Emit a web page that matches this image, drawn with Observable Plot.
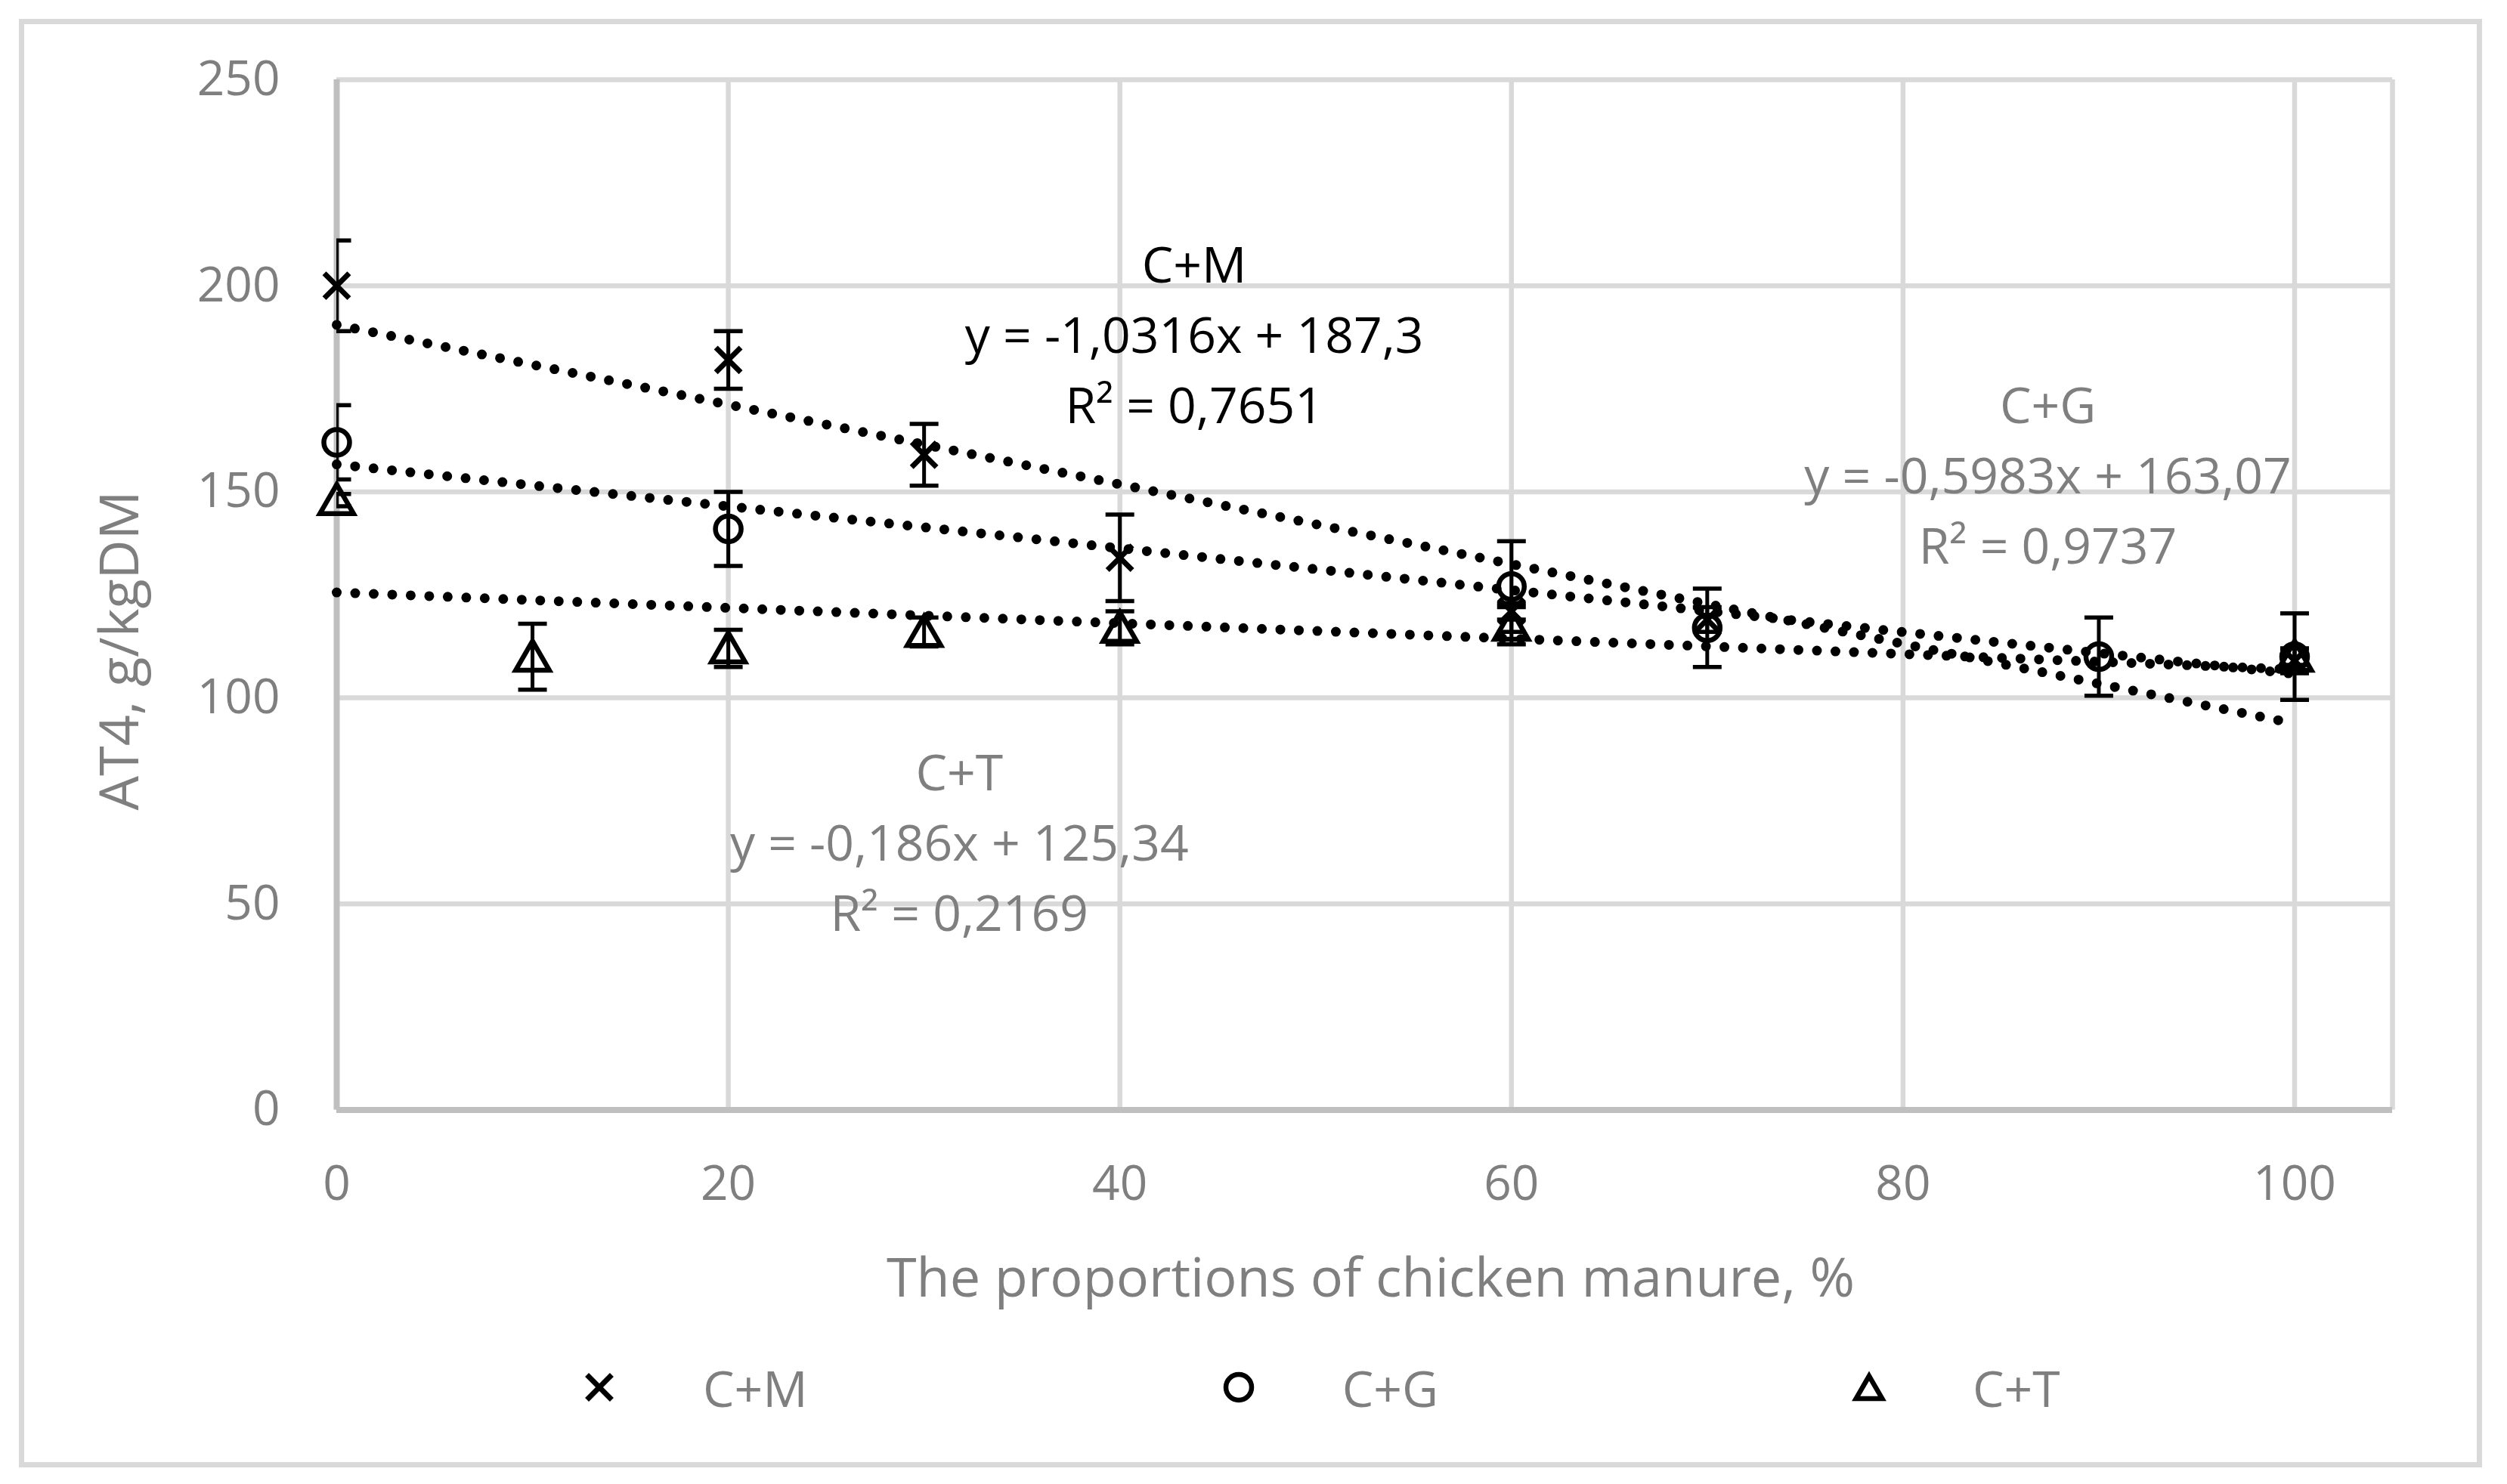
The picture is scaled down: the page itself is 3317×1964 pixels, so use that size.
<!DOCTYPE html>
<html>
<head>
<meta charset="utf-8">
<script src="https://cdn.jsdelivr.net/npm/d3@7"></script>
<script src="https://cdn.jsdelivr.net/npm/@observablehq/plot@0.6"></script>
<style>
  html, body { margin: 0; padding: 0; background: #ffffff; }
  body { width: 3317px; height: 1964px; position: relative; overflow: hidden; font-family: "Open Sans", sans-serif; }
  #frame { position: absolute; left: 25px; top: 25px; width: 3259px; height: 1917px; box-sizing: border-box; border: 7px solid #d9d9d9; }
  #chart { position: absolute; left: 0; top: 0; }
  #ytitle { position: absolute; left: 155px; top: 861px; transform: translate(-50%, -50%) rotate(-90deg); white-space: nowrap; font-size: 72px; line-height: 1; color: #7f7f7f; }
  #legend { position: absolute; left: 773px; top: 1796px; height: 80px; display: flex; align-items: center; font-size: 66px; color: #7f7f7f; }
  .item { display: flex; align-items: center; }
  .item svg { margin-right: 117px; overflow: visible; }
  .item + .item { margin-left: 550px; }
</style>
</head>
<body>
<div id="frame"></div>
<div id="chart"></div>
<div id="ytitle"></div>
<div id="legend"></div>
<script>
// ---- data ----
const seriesNames = ["C+M", "C+G", "C+T"];

const cmX   = [0, 20, 30, 40, 60, 70, 100];
const cmY   = [200, 182, 159, 134, 121, 119, 109];
const cmErr = [11, 7, 7.5, 10.5, 2, 3, 3];

const cgX   = [0, 20, 60, 70, 90, 100];
const cgY   = [162, 141, 127, 117, 110, 110];
const cgErr = [9, 9, 11, 9.5, 9.5, 10.5];

const ctX   = [0, 10, 20, 30, 40, 60, 100];
const ctY   = [148, 110, 112, 116, 117, 117.5, 110];
const ctErr = [1.5, 8, 4.5, 3.5, 4, 4.5, 2];

const xTicks = [0, 20, 40, 60, 80, 100];
const yTicks = [0, 50, 100, 150, 200, 250];

const labelNames = ["C+M", "C+G", "C+T"];
const labelEquations = ["y = -1,0316x + 187,3", "y = -0,5983x + 163,07", "y = -0,186x + 125,34"];
const labelR2 = ["R² = 0,7651", "R² = 0,9737", "R² = 0,2169"];

const xTitle = "The proportions of chicken manure, %";
const yTitle = "AT4, g/kgDM";

// ---- build table ----
function rowsOf(name, xs, ys, es) {
  return xs.map((x, i) => ({series: name, x, y: ys[i], err: es[i]}));
}
const rows = [
  ...rowsOf("C+M", cmX, cmY, cmErr),
  ...rowsOf("C+G", cgX, cgY, cgErr),
  ...rowsOf("C+T", ctX, ctY, ctErr)
];

// label placement (data coordinates of the middle line)
const labelPlace = [[43.8, 189.2], [87.4, 155], [31.8, 66]];
const labels = labelNames.map((n, i) => ({
  name: n,
  text: `${n}\n${labelEquations[i]}\n${labelR2[i]}`,
  x: labelPlace[i][0],
  y: labelPlace[i][1]
}));

// horizontal cap symbol for error bars
const capSymbol = {
  draw(context, size) {
    const w = Math.sqrt(size / Math.PI);
    context.moveTo(-w, 0);
    context.lineTo(w, 0);
  }
};

const gridColor = "#d9d9d9";
const axisColor = "#bfbfbf";
const textGray = "#7f7f7f";

const chart = Plot.plot({
  width: 3317,
  height: 1760,
  marginLeft: 445,
  marginRight: 152,
  marginTop: 105,
  marginBottom: 291.5,
  style: {fontFamily: "'Open Sans', sans-serif", fontSize: "64px", color: textGray, background: "transparent", overflow: "visible"},
  x: {domain: [0, 105], ticks: xTicks, tickFormat: d => String(d), label: null, tickSize: 0, tickPadding: 74},
  y: {domain: [0, 250], ticks: yTicks, tickFormat: d => String(d), label: null, tickSize: 0, tickPadding: 75},
  symbol: {domain: seriesNames, range: ["times", "circle", "triangle"]},
  marks: [
    Plot.ruleY(yTicks, {stroke: gridColor, strokeWidth: 6.5}),
    Plot.ruleX([...xTicks, 105], {stroke: gridColor, strokeWidth: 6.5}),
    Plot.ruleX([0], {stroke: axisColor, strokeWidth: 8}),
    Plot.ruleY([0], {stroke: axisColor, strokeWidth: 8}),
    Plot.linearRegressionY(rows, {
      x: "x", y: "y", z: "series", ci: 0,
      stroke: "black", strokeWidth: 13, strokeDasharray: "0 24.5", strokeLinecap: "round"
    }),
    Plot.ruleX(rows, {x: "x", y1: d => d.y - d.err, y2: d => d.y + d.err, stroke: "black", strokeWidth: 5, clip: true}),
    Plot.dot(rows, {x: "x", y: d => d.y + d.err, symbol: capSymbol, r: 19, fill: "none", stroke: "black", strokeWidth: 5.5, clip: true}),
    Plot.dot(rows, {x: "x", y: d => d.y - d.err, symbol: capSymbol, r: 19, fill: "none", stroke: "black", strokeWidth: 5.5, clip: true}),
    Plot.dot(rows.filter(d => d.series === "C+M"), {x: "x", y: "y", symbol: "series", r: 15, fill: "none", stroke: "black", strokeWidth: 7}),
    Plot.dot(rows.filter(d => d.series === "C+G"), {x: "x", y: "y", symbol: "series", r: 17, fill: "none", stroke: "black", strokeWidth: 6.5}),
    Plot.dot(rows.filter(d => d.series === "C+T"), {x: "x", y: "y", symbol: "series", r: 16.5, fill: "none", stroke: "black", strokeWidth: 6.5, dy: 5}),
    Plot.text(labels, {
      x: "x", y: "y", text: "text", lineAnchor: "middle", lineHeight: 1.41,
      fontSize: 66, fill: d => d.name === "C+M" ? "#000000" : textGray
    }),
    Plot.text([xTitle], {frameAnchor: "bottom", lineAnchor: "top", dy: 196, dx: 8, fontSize: 72, fill: textGray})
  ]
});
document.getElementById("chart").appendChild(chart);
document.getElementById("ytitle").textContent = yTitle;

// ---- legend ----
const legendSymbols = {"C+M": [d3.symbolTimes, 15], "C+G": [d3.symbolCircle, 17], "C+T": [d3.symbolTriangle2, 16.5]};
const legend = d3.select("#legend");
seriesNames.forEach(name => {
  const [sym, r] = legendSymbols[name];
  const item = legend.append("div").attr("class", "item");
  const svg = item.append("svg").attr("width", 40).attr("height", 40).attr("viewBox", "-20 -20 40 40");
  svg.append("path")
    .attr("d", d3.symbol(sym, Math.PI * r * r)())
    .attr("transform", name === "C+T" ? "translate(0,5)" : null)
    .attr("fill", "none").attr("stroke", "black").attr("stroke-width", name === "C+M" ? 7 : 6.5);
  item.append("span").text(name);
});
</script>
</body>
</html>
